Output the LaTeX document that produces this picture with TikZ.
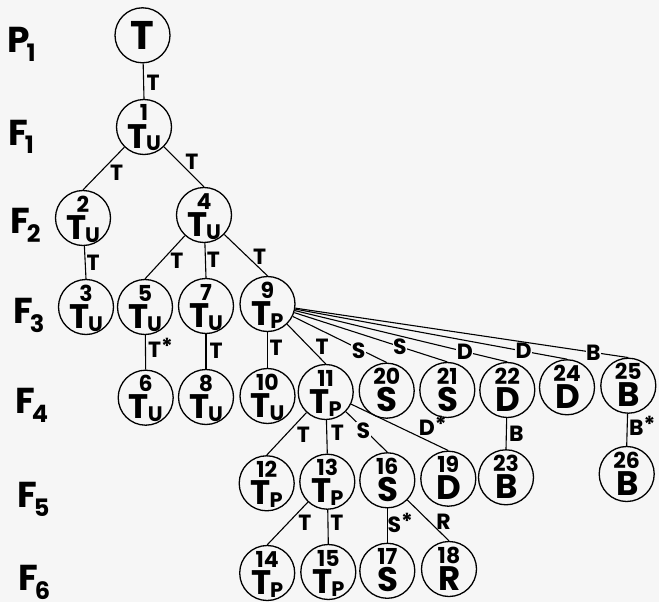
\documentclass[tikz,border=0pt]{standalone}
\usepackage{fontspec}
\setmainfont{Poppins}
\definecolor{paper}{RGB}{246,246,246}

% circle contents: number, letter, subscript
\newcommand{\gen}[3]{\smash{\makebox[0pt]{\raisebox{6pt}{#1}}\makebox[0pt]{\raisebox{-21pt}{\fontsize{34}{34}\selectfont #2\kern-1pt\raisebox{-3pt}{\fontsize{21}{21}\selectfont #3}}}}}
\newcommand{\lvl}[2]{#1\kern-3pt\raisebox{-9pt}{\fontsize{24}{24}\selectfont #2}}
\newcommand{\withstar}[1]{#1\raisebox{3pt}{*}}

\begin{document}
\begin{tikzpicture}[x=1pt, y=-1pt,
	gen/.style={shape=circle, draw=black, line width=1.3pt, minimum size=55pt, inner sep=0pt,
		font=\bfseries\fontsize{22}{24}\selectfont},
	lbl/.style={font=\bfseries\fontsize{22}{22}\selectfont, inner sep=0.5pt},
	onln/.style={lbl, fill=paper},
	lev/.style={anchor=base west, inner sep=0pt, font=\bfseries\fontsize{36}{36}\selectfont},
	every edge/.style={draw=black, line width=1.1pt}]

	\fill[paper] (0,0) rectangle (659,602);
	\useasboundingbox (0,0) rectangle (659,602);

	% generations
	\node[lev] (p1) at (7, 53)   {\lvl{P}{1}};
	\node[lev] (f1) at (8, 145)  {\lvl{F}{1}};
	\node[lev] (f2) at (10, 233) {\lvl{F}{2}};
	\node[lev] (f3) at (13, 323) {\lvl{F}{3}};
	\node[lev] (f4) at (15, 413) {\lvl{F}{4}};
	\node[lev] (f5) at (17, 507) {\lvl{F}{5}};
	\node[lev] (f6) at (18, 590) {\lvl{F}{6}};

	\node[gen, font=\bfseries\fontsize{40}{40}\selectfont] (top) at (142.5, 35.3) {T};
	\node[gen] (n1) at (144, 127)   {\gen{1}{T}{U}};

	\node[gen] (n2) at (83, 218)    {\gen{2}{T}{U}};
	\node[gen] (n4) at (204, 215)   {\gen{4}{T}{U}};

	\node[gen] (n3) at (86, 307)    {\gen{3}{T}{U}};
	\node[gen] (n5) at (145, 307)   {\gen{5}{T}{U}};
	\node[gen] (n7) at (206, 306)   {\gen{7}{T}{U}};
	\node[gen] (n9) at (267.5, 304) {\gen{9}{T}{P}};

	\node[gen] (n6) at (145.7, 397.7) {\gen{6}{T}{U}};
	\node[gen] (n8) at (206, 397)     {\gen{8}{T}{U}};
	\node[gen] (n10) at (267.5, 396)  {\gen{10}{T}{U}};
	\node[gen] (n11) at (325.7, 392)  {\gen{11}{T}{P}};
	\node[gen] (n20) at (386.7, 390.7) {\gen{20}{S}{}};
	\node[gen] (n21) at (447.3, 390)  {\gen{21}{S}{}};
	\node[gen] (n22) at (507.3, 390)  {\gen{22}{D}{}};
	\node[gen] (n24) at (567, 387.3)  {\gen{24}{D}{}};
	\node[gen] (n25) at (628.3, 385.7) {\gen{25}{B}{}};

	\node[gen] (n12) at (266.7, 483.3) {\gen{12}{T}{P}};
	\node[gen] (n13) at (327.3, 481.7) {\gen{13}{T}{P}};
	\node[gen] (n16) at (387.3, 480.3) {\gen{16}{S}{}};
	\node[gen] (n19) at (448.3, 478.7) {\gen{19}{D}{}};
	\node[gen] (n23) at (506, 477.3)   {\gen{23}{B}{}};
	\node[gen] (n26) at (626.7, 474)   {\gen{26}{B}{}};

	\node[gen] (n14) at (267.2, 573) {\gen{14}{T}{P}};
	\node[gen] (n15) at (328.3, 572) {\gen{15}{T}{P}};
	\node[gen] (n17) at (387.3, 570.8) {\gen{17}{S}{}};
	\node[gen] (n18) at (449, 569)     {\gen{18}{R}{}};

	% crosses
	\path (top) edge node[lbl, pos=.54, xshift=9.5pt] (l1) {T} (n1.north);
	\path (n1) edge node[lbl, pos=.6, xshift=17pt] (l2) {T} (n2.north);
	\path (n1) edge node[lbl, pos=.37, xshift=13pt] (l4) {T} (n4.north);
	\path (n2) edge node[lbl, pos=.52, xshift=8pt] (l3) {T} (n3.north);
	\path (n4) edge node[lbl, pos=.58, xshift=15pt] (l5) {T} (n5.north);
	\path (n4) edge node[lbl, pos=.49, xshift=8pt] (l7) {T} (n7.north);
	\path (n4) edge node[lbl, pos=.54, xshift=12pt] (l9) {T} (n9.north);
	\path (n5) edge node[lbl, pos=.36, xshift=15pt] (l6) {\withstar{T}} (n6.north);
	\path (n7) edge node[lbl, pos=.47, xshift=10pt] (l8) {T} (n8.north);
	\path (n9) edge node[lbl, pos=.44, xshift=8.5pt] (l10) {T} (n10.north);
	\path (n9) edge node[lbl, pos=.57, xshift=13pt] (l11) {T} (n11.north);
	\path (n9) edge node[onln, pos=.70, yshift=-2pt] (l20) {S} (n20.north);
	\path (n9) edge node[onln, pos=.69] (l21) {S} (n21.north);
	\path (n9) edge node[onln, pos=.80] (l22) {D} (n22.north);
	\path (n9) edge node[onln, pos=.84] (l24) {D} (n24.north);
	\path (n9) edge node[onln, pos=.895] (l25) {B} (n25.north);
	\path (n11) edge node[lbl, pos=.53, xshift=18pt] (l12) {T} (n12.north);
	\path (n11) edge node[lbl, pos=.38, xshift=10.5pt] (l13) {T} (n13.north);
	\path (n11) edge node[onln, pos=.47, xshift=-2pt] (l16) {S} (n16.north);
	\path (n11) edge node[lbl, pos=.84, yshift=17pt] (l19) {\withstar{D}} (n19.north);
	\path (n22) edge node[lbl, pos=.49, xshift=10pt] (l23) {B} (n23.north);
	\path (n25) edge node[lbl, pos=.38, xshift=15pt] (l26) {\withstar{B}} (n26.north);
	\path (n13) edge node[lbl, pos=.49, xshift=17pt] (l14) {T} (n14.north);
	\path (n13) edge node[lbl, pos=.39, xshift=9pt] (l15) {T} (n15.north);
	\path (n16) edge node[lbl, pos=.42, xshift=13pt] (l17) {\withstar{S}} (n17.north);
	\path (n16) edge node[lbl, pos=.53, xshift=14pt] (l18) {R} (n18.north);

\end{tikzpicture}
\end{document}
